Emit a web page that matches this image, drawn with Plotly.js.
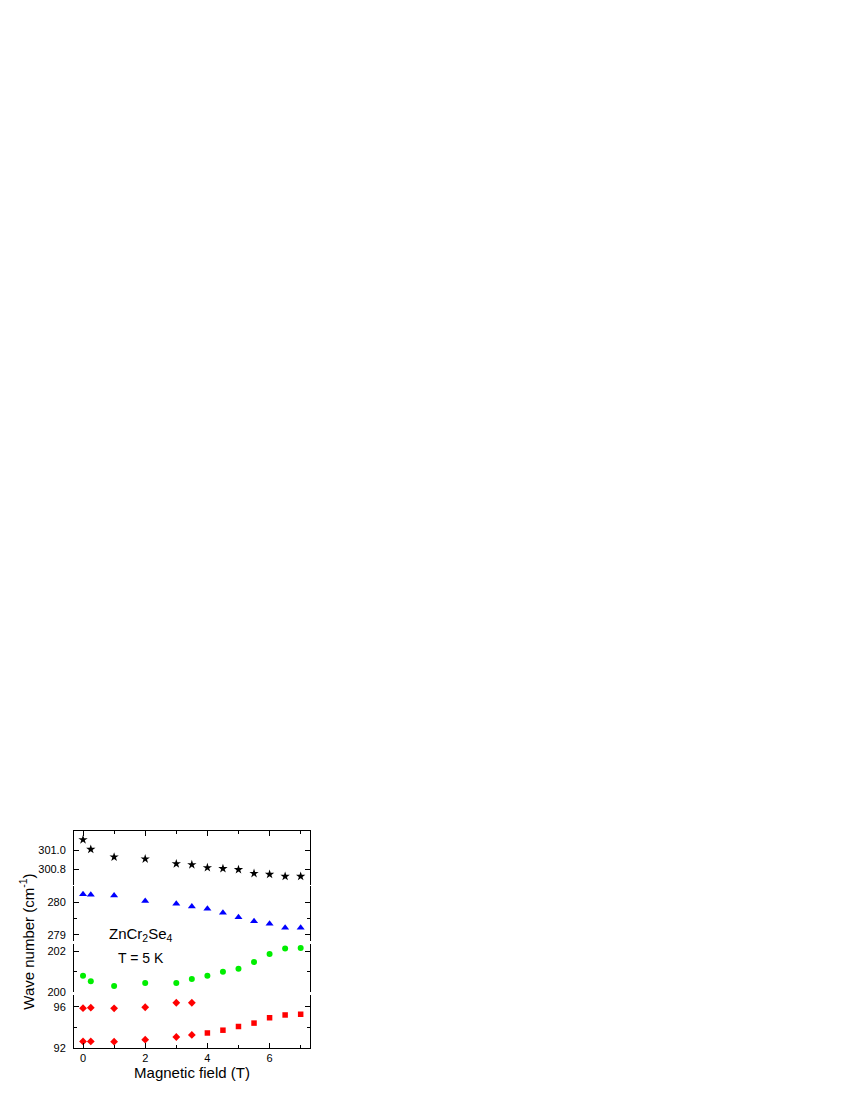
<!DOCTYPE html>
<html>
<head>
<meta charset="utf-8">
<script src="https://cdn.plot.ly/plotly-3.0.1.min.js"></script>
<style>
  body { margin: 0; background: #fff; }
  #chart { width: 850px; height: 1100px; }
</style>
</head>
<body>
<div id="chart"></div>
<script>
// magnetic field values (T)
const field = [0, 0.25, 1, 2, 3, 3.5, 4, 4.5, 5, 5.5, 6, 6.5, 7];
const diamondField = [0, 0.25, 1, 2, 3, 3.5];
const squareField = [4, 4.5, 5, 5.5, 6, 6.5, 7];

// wave numbers (cm-1), one list per mode
const mode301 = [301.11, 301.01, 300.93, 300.91, 300.86, 300.85, 300.82, 300.81, 300.80, 300.76, 300.75, 300.73, 300.73];
const mode280 = [280.25, 280.23, 280.21, 280.04, 279.96, 279.87, 279.80, 279.68, 279.54, 279.42, 279.34, 279.22, 279.22];
const mode201 = [200.81, 200.54, 200.31, 200.46, 200.46, 200.65, 200.81, 201.00, 201.15, 201.48, 201.86, 202.13, 202.16];
const mode96 = [95.87, 95.92, 95.86, 95.96, 96.40, 96.40];
const mode93 = [92.64, 92.64, 92.61, 92.81, 93.07, 93.27];
const mode93b = [93.46, 93.73, 94.09, 94.42, 94.94, 95.21, 95.28];

// tick positions
const xTicks = [0, 2, 4, 6];
const xMinor = [1, 3, 5, 7];
const y1Ticks = [300.8, 301.0];
const y2Ticks = [279, 280];
const y2Minor = [279.5, 280.5];
const y3Ticks = [200, 202];
const y3Minor = [201];
const y4Ticks = [92, 96];
const y4Minor = [94];

const fontFamily = 'Liberation Sans, Arial, sans-serif';

function markerTrace(x, y, symbol, color, size, xaxis, yaxis) {
  return {
    type: 'scatter',
    mode: 'markers',
    x: x,
    y: y,
    xaxis: xaxis,
    yaxis: yaxis,
    marker: { symbol: symbol, color: color, size: size, line: { width: 0 } },
    hoverinfo: 'x+y'
  };
}

const data = [
  markerTrace(field, mode301, 'star', '#000000', 7, 'x2', 'y'),
  markerTrace(field, mode280, 'triangle-up', '#0000ff', 7, 'x', 'y2'),
  markerTrace(field, mode201, 'circle', '#00ee00', 6, 'x', 'y3'),
  markerTrace(diamondField, mode96, 'diamond', '#ff0000', 6, 'x', 'y4'),
  markerTrace(diamondField, mode93, 'diamond', '#ff0000', 6, 'x', 'y4'),
  markerTrace(squareField, mode93b, 'square', '#ff0000', 5.5, 'x', 'y4')
];

function minorTicks(vals) {
  return { tickmode: 'array', tickvals: vals, ticks: 'inside', ticklen: 3, tickcolor: '#000' };
}

// shared look for the stacked y axes
function yAxis(domain, range, ticks, minor, format) {
  const axis = {
    domain: domain,
    range: range,
    anchor: 'x',
    tickmode: 'array',
    tickvals: ticks,
    tickformat: format,
    ticks: 'inside',
    ticklen: 5,
    tickcolor: '#000',
    ticklabelstandoff: 5,
    showline: true,
    linecolor: '#000',
    linewidth: 1,
    mirror: 'ticks',
    showgrid: false,
    zeroline: false,
    tickfont: { family: fontFamily, size: 11, color: '#000' }
  };
  if (minor) axis.minor = minorTicks(minor);
  return axis;
}

const layout = {
  width: 850,
  height: 1100,
  paper_bgcolor: '#fff',
  plot_bgcolor: '#fff',
  showlegend: false,
  margin: { l: 74, r: 540, t: 831, b: 52, autoexpand: false },
  font: { family: fontFamily, color: '#000' },
  xaxis: {
    range: [-0.29, 7.3],
    anchor: 'y4',
    tickmode: 'array',
    tickvals: xTicks,
    ticks: 'inside',
    ticklen: 5,
    tickcolor: '#000',
    minor: minorTicks(xMinor),
    showline: true,
    linecolor: '#000',
    linewidth: 1,
    showgrid: false,
    zeroline: false,
    tickfont: { family: fontFamily, size: 11, color: '#000' },
    title: { text: 'Magnetic field (T)', font: { family: fontFamily, size: 15, color: '#000' }, standoff: 4 }
  },
  // top frame line with its ticks
  xaxis2: {
    matches: 'x',
    overlaying: 'x',
    anchor: 'y',
    side: 'top',
    tickmode: 'array',
    tickvals: xTicks,
    ticks: 'inside',
    ticklen: 5,
    tickcolor: '#000',
    minor: minorTicks(xMinor),
    showticklabels: false,
    showline: true,
    linecolor: '#000',
    linewidth: 1,
    showgrid: false,
    zeroline: false
  },
  yaxis: yAxis([0.7512, 1], [300.64, 301.2], y1Ticks, null, '.1f'),
  yaxis2: yAxis([0.4908, 0.7465], [278.8, 280.5], y2Ticks, y2Minor, 'd'),
  yaxis3: yAxis([0.2558, 0.4793], [200, 202.35], y3Ticks, y3Minor, 'd'),
  yaxis4: yAxis([0, 0.2442], [92, 97.15], y4Ticks, y4Minor, 'd'),
  annotations: [
    {
      text: 'ZnCr<sub>2</sub>Se<sub>4</sub>',
      xref: 'x', yref: 'paper', x: 1.87, y: 0.521,
      showarrow: false,
      font: { family: fontFamily, size: 15, color: '#000' }
    },
    {
      text: 'T = 5 K',
      xref: 'x', yref: 'paper', x: 1.87, y: 0.415,
      showarrow: false,
      font: { family: fontFamily, size: 14, color: '#000' }
    },
    {
      text: 'Wave number (cm<sup>-1</sup>)',
      xref: 'paper', yref: 'paper', x: -0.199, y: 0.49,
      xanchor: 'center', yanchor: 'middle',
      textangle: -90,
      showarrow: false,
      font: { family: fontFamily, size: 15, color: '#000' }
    }
  ]
};

Plotly.newPlot('chart', data, layout, { displayModeBar: false, staticPlot: true });
</script>
</body>
</html>
